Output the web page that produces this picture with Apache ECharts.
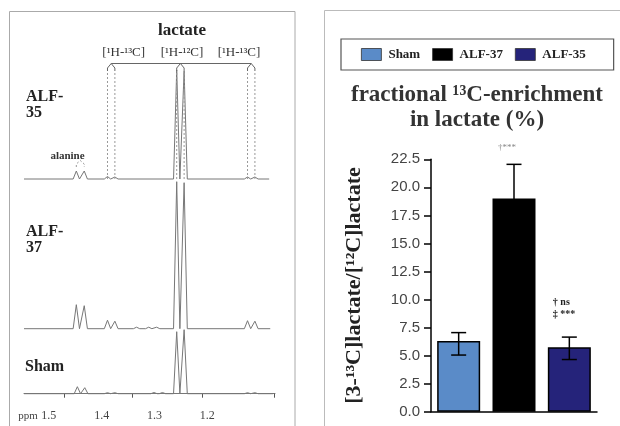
<!DOCTYPE html>
<html>
<head>
<meta charset="utf-8">
<title>fractional 13C-enrichment in lactate</title>
<script src="https://cdn.jsdelivr.net/npm/echarts@6/dist/echarts.min.js"></script>
<style>
  html, body { margin: 0; padding: 0; background: #fff; }
  #main { width: 620px; height: 426px; }
</style>
</head>
<body>
<div id="main"></div>
<script>
// ---------- left: 1H NMR spectra ----------
var ppmLabels = [1.5, 1.4, 1.3, 1.2];
var ppmTicks = [1.4716, 1.3415, 1.2089, 1.0725];  // tick marks as printed (offset from labels)
var traceStart = 1.547;
var traceEnd = [1.076, 1.081, 1.083];             // Sham, ALF-37, ALF-35
// [ppm, peak height]
var shamPeaks = [[1.446, 7], [1.432, 6], [1.389, 1], [1.375, 1], [1.301, 1.2], [1.285, 1.2],
                 [1.258, 62], [1.244, 64], [1.124, 1], [1.110, 1]];
var alf37Peaks = [[1.448, 24], [1.433, 23], [1.389, 8.5], [1.375, 7.5], [1.334, 1.5], [1.311, 1.5],
                  [1.296, 1.5], [1.258, 147], [1.244, 146], [1.124, 8], [1.110, 7.5]];
var alf35Peaks = [[1.448, 8], [1.433, 8], [1.389, 2.5], [1.375, 2], [1.258, 109], [1.244, 108],
                  [1.124, 2], [1.110, 2]];
var lactatePairs = [[1.389, 1.375], [1.258, 1.244], [1.124, 1.110]];
var alaninePair = [1.448, 1.433];

// ---------- right: bar chart ----------
var groups = ['Sham', 'ALF-37', 'ALF-35'];
var means = [6.3, 19.0, 5.75];
var errLow = [5.05, 15.9, 4.65];
var errHigh = [7.05, 22.05, 6.65];
var sigText = ['', '†***', '† ns\n‡ ***'];

var barColors = ['#5a8bc8', '#000000', '#25237a'];
var serif = 'Liberation Serif';
var baseY = [393.7, 328.7, 179];   // pixel row of each baseline
var hw = 0.006;                    // half width of a drawn peak, ppm

function trace(peaks, end) {
  var pts = [[traceStart, 0]];
  peaks.slice().sort(function (a, b) { return b[0] - a[0]; }).forEach(function (p) {
    pts.push([p[0] + hw, 0], [p[0], p[1]], [p[0] - hw, 0]);
  });
  pts.push([end, 0]);
  return pts;
}

// bracket over the lactate multiplets (ALF-35 units)
var capLow = 108, capHigh = 115.5;
var capData = [], dotData = [];
lactatePairs.forEach(function (p) {
  var c = (p[0] + p[1]) / 2;
  capData.push([p[0], capLow], [p[0], capLow + 3], [c, capHigh], [p[1], capLow + 3], [p[1], capLow], [c, '-']);
  dotData.push([p[0], 0], [p[0], capLow], [p[0], '-'], [p[1], 0], [p[1], capLow], [p[1], '-']);
});
capData.push([(lactatePairs[0][0] + lactatePairs[0][1]) / 2, capHigh],
             [(lactatePairs[2][0] + lactatePairs[2][1]) / 2, capHigh]);
var alaC = (alaninePair[0] + alaninePair[1]) / 2;
var alaArch = [[alaninePair[0], 12], [alaninePair[0], 15], [alaC, 18.5], [alaninePair[1], 15], [alaninePair[1], 12]];

var specAxes = baseY.map(function (b) {
  var lo = -(402 - b);
  return { gridIndex: 0, type: 'value', show: false, min: lo, max: lo + 382 };
});

var traceStyle = { color: '#777', width: 1 };
var series = [
  { name: 'Sham spectrum', type: 'line', xAxisIndex: 0, yAxisIndex: 0, data: trace(shamPeaks, traceEnd[0]) },
  { name: 'ALF-37 spectrum', type: 'line', xAxisIndex: 0, yAxisIndex: 1, data: trace(alf37Peaks, traceEnd[1]) },
  { name: 'ALF-35 spectrum', type: 'line', xAxisIndex: 0, yAxisIndex: 2, data: trace(alf35Peaks, traceEnd[2]) },
  { name: 'bracket', type: 'line', xAxisIndex: 0, yAxisIndex: 2, data: capData,
    lineStyle: { color: '#666', width: 1 } },
  { name: 'bracket dots', type: 'line', xAxisIndex: 0, yAxisIndex: 2, data: dotData,
    lineStyle: { color: '#999', width: 1, type: [2, 2] } },
  { name: 'alanine arch', type: 'line', xAxisIndex: 0, yAxisIndex: 2, data: alaArch,
    lineStyle: { color: '#999', width: 1, type: [2, 2] } }
];
series.forEach(function (s) {
  s.symbol = 'none';
  s.silent = true;
  s.connectNulls = false;
  if (!s.lineStyle) s.lineStyle = traceStyle;
});

groups.forEach(function (g, i) {
  series.push({
    name: g, type: 'bar', xAxisIndex: 1, yAxisIndex: 3,
    barWidth: 43, barGap: '-100%',
    data: groups.map(function (_, j) { return j === i ? means[i] : '-'; }),
    itemStyle: { color: barColors[i], borderColor: '#000', borderWidth: 1.5 }
  });
});

var sigStyle = [
  null,
  { dx: -7, dy: -17, font: '9px ' + serif, fill: '#888', textAlign: 'center', textVerticalAlign: 'middle' },
  { dx: -16.5, dy: -17, font: 'bold 10px ' + serif, fill: '#222', textAlign: 'left', textVerticalAlign: 'bottom', lineHeight: 11.6 }
];

series.push({
  name: 'error', type: 'custom', xAxisIndex: 1, yAxisIndex: 3, z: 5, silent: true,
  data: groups.map(function (_, i) { return [i, errLow[i], errHigh[i]]; }),
  renderItem: function (params, api) {
    var i = api.value(0);
    var top = api.coord([i, api.value(2)]);
    var bot = api.coord([i, api.value(1)]);
    var cw = 7.5;
    var st = { stroke: '#000', lineWidth: 1.5 };
    var kids = [
      { type: 'line', shape: { x1: top[0], y1: top[1], x2: bot[0], y2: bot[1] }, style: st },
      { type: 'line', shape: { x1: top[0] - cw, y1: top[1], x2: top[0] + cw, y2: top[1] }, style: st },
      { type: 'line', shape: { x1: bot[0] - cw, y1: bot[1], x2: bot[0] + cw, y2: bot[1] }, style: st }
    ];
    var s = sigStyle[i];
    if (sigText[i] && s) {
      kids.push({ type: 'text', style: {
        text: sigText[i], x: top[0] + s.dx, y: top[1] + s.dy, font: s.font, fill: s.fill,
        textAlign: s.textAlign, textVerticalAlign: s.textVerticalAlign, lineHeight: s.lineHeight
      } });
    }
    return { type: 'group', children: kids };
  }
});

function txt(x, y, text, font, opts) {
  opts = opts || {};
  return { type: 'text', x: x, y: y, silent: true, style: {
    text: text, font: font, fill: opts.fill || '#222',
    textAlign: opts.align || 'center', textVerticalAlign: opts.valign || 'middle',
    lineHeight: opts.lineHeight
  } };
}

var chart = echarts.init(document.getElementById('main'));
chart.setOption({
  animation: false,
  backgroundColor: '#fff',
  title: {
    text: 'fractional ¹³C-enrichment\nin lactate (%)',
    left: 477, top: 83, textAlign: 'center', padding: 0,
    textStyle: { fontFamily: serif, fontWeight: 'bold', fontSize: 23, lineHeight: 25, color: '#333' }
  },
  legend: {
    data: groups, left: 341, top: 39, padding: [9, 28, 9, 20],
    borderColor: '#555', borderWidth: 1.2,
    itemWidth: 20, itemHeight: 12, itemGap: 12, icon: 'rect',
    itemStyle: { borderWidth: 0.8, borderColor: '#333' },
    textStyle: { fontFamily: serif, fontWeight: 'bold', fontSize: 13, color: '#222', padding: [0, 0, 0, 2] }
  },
  grid: [
    { left: 24, width: 251, top: 20, height: 382 },
    { left: 431, width: 166, top: 159.3, height: 252.4 }
  ],
  xAxis: [
    { gridIndex: 0, type: 'value', inverse: true, min: 1.072, max: 1.547,
      axisLine: { lineStyle: { color: '#777', width: 1 } },
      axisTick: { show: true, customValues: ppmTicks, length: 4, lineStyle: { color: '#555', width: 1 } },
      axisLabel: { customValues: ppmLabels, margin: 8, fontFamily: serif, fontSize: 12, color: '#444',
                   formatter: function (v) { return v.toFixed(1); } },
      splitLine: { show: false } },
    { gridIndex: 1, type: 'category', data: groups,
      axisLine: { lineStyle: { color: '#000', width: 1.5 } },
      axisTick: { show: false }, axisLabel: { show: false } }
  ],
  yAxis: specAxes.concat([{
    gridIndex: 1, type: 'value', min: 0, max: 22.5, interval: 2.5,
    name: '[3-¹³C]lactate/[¹²C]lactate', nameLocation: 'middle', nameGap: 66,
    nameTextStyle: { fontFamily: serif, fontWeight: 'bold', fontSize: 22, color: '#222' },
    axisLine: { show: true, lineStyle: { color: '#000', width: 1.5 } },
    axisTick: { show: true, length: 7, lineStyle: { color: '#000', width: 1.5 } },
    axisLabel: { margin: 11, fontFamily: 'Liberation Sans', fontSize: 15, color: '#444',
                 formatter: function (v) { return v.toFixed(1); } },
    splitLine: { show: false }
  }]),
  series: series,
  graphic: [
    { type: 'rect', silent: true, z: -10, shape: { x: 9.5, y: 11.5, width: 285.5, height: 430 },
      style: { fill: 'none', stroke: '#aaa', lineWidth: 1 } },
    { type: 'rect', silent: true, z: -10, shape: { x: 324.5, y: 10.5, width: 320, height: 430 },
      style: { fill: 'none', stroke: '#bbb', lineWidth: 1 } },
    txt(182, 31, 'lactate', 'bold 17px ' + serif),
    txt(123.7, 53, '[¹H-¹³C]', '13px ' + serif, { fill: '#333' }),
    txt(182, 53, '[¹H-¹²C]', '13px ' + serif, { fill: '#333' }),
    txt(239, 53, '[¹H-¹³C]', '13px ' + serif, { fill: '#333' }),
    txt(26, 89, 'ALF-\n35', 'bold 16px ' + serif, { align: 'left', valign: 'top', lineHeight: 16 }),
    txt(26, 224, 'ALF-\n37', 'bold 16px ' + serif, { align: 'left', valign: 'top', lineHeight: 16 }),
    txt(25, 367, 'Sham', 'bold 16px ' + serif, { align: 'left' }),
    txt(67.5, 156, 'alanine', 'bold 11px ' + serif, { fill: '#333' }),
    txt(28, 416, 'ppm', '11px ' + serif, { fill: '#444' })
  ]
});
</script>
</body>
</html>
